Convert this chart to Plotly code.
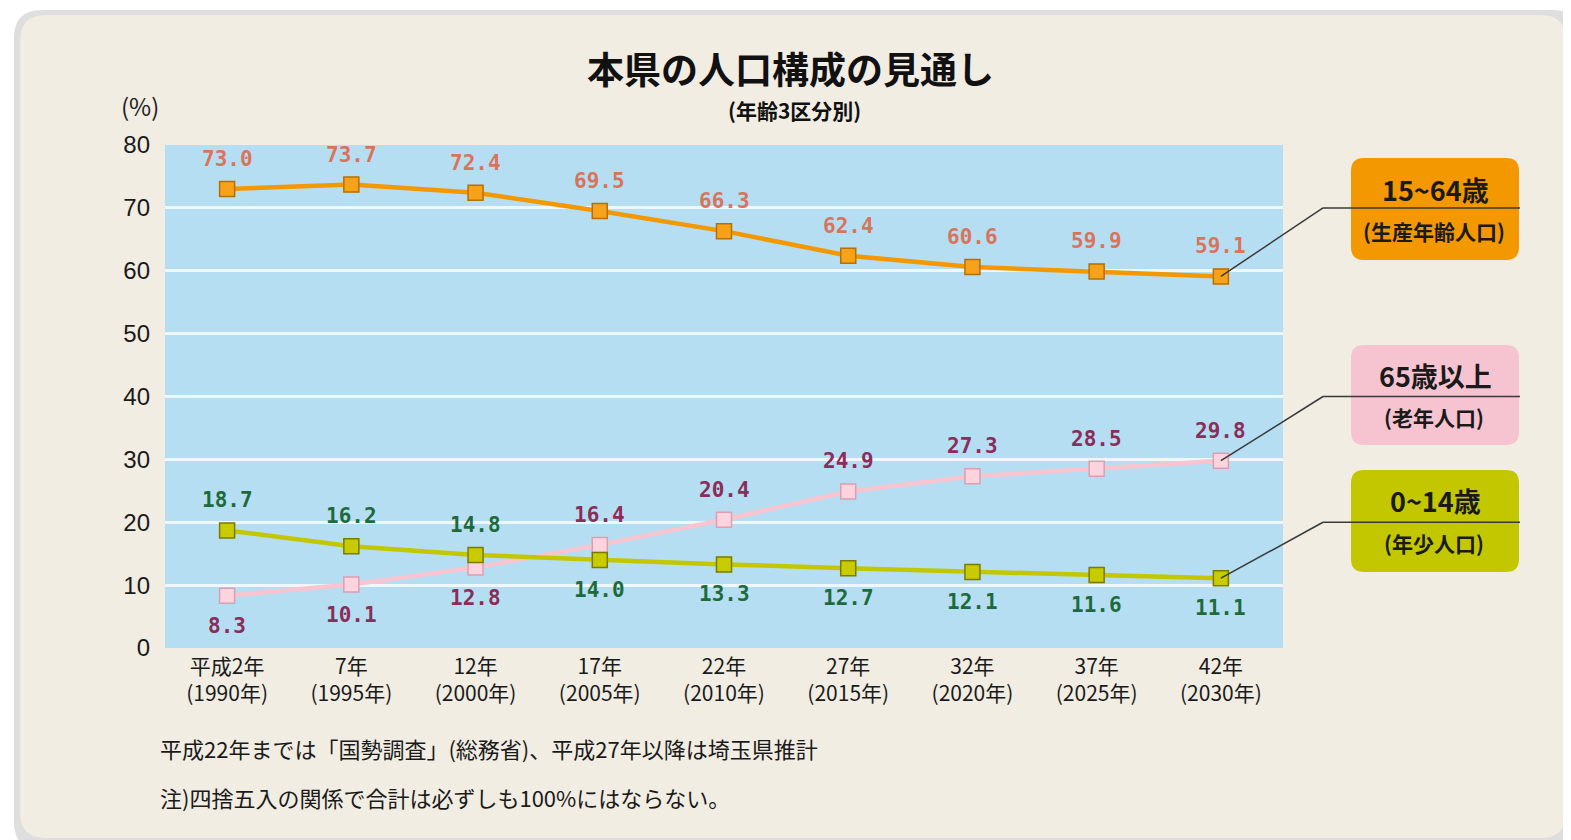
import plotly.graph_objects as go

# ---------------- data ----------------
categories = ["平成2年<br>(1990年)", "7年<br>(1995年)", "12年<br>(2000年)", "17年<br>(2005年)",
              "22年<br>(2010年)", "27年<br>(2015年)", "32年<br>(2020年)", "37年<br>(2025年)",
              "42年<br>(2030年)"]
working_age = [73.0, 73.7, 72.4, 69.5, 66.3, 62.4, 60.6, 59.9, 59.1]   # 15~64歳
elderly = [8.3, 10.1, 12.8, 16.4, 20.4, 24.9, 27.3, 28.5, 29.8]         # 65歳以上
children = [18.7, 16.2, 14.8, 14.0, 13.3, 12.7, 12.1, 11.6, 11.1]       # 0~14歳

# which side of the marker the value label sits on (+1 above, -1 below)
working_side = [1, 1, 1, 1, 1, 1, 1, 1, 1]
elderly_side = [-1, -1, -1, 1, 1, 1, 1, 1, 1]
children_side = [1, 1, 1, -1, -1, -1, -1, -1, -1]

title = "本県の人口構成の見通し"
subtitle = "(年齢3区分別)"
note1 = "平成22年までは「国勢調査」(総務省)、平成27年以降は埼玉県推計"
note2 = "注)四捨五入の関係で合計は必ずしも100%にはならない。"

# ---------------- layout geometry ----------------
W, H = 1571, 840
OFF = 8  # page body margin
# plot area in screen pixels
SL, SR, ST, SB = 165, 1283, 145, 648
ML, MT = SL - OFF, ST - OFF
MR, MB = W - (SR - OFF), H - (SB - OFF)
PW, PH = SR - SL, SB - ST


def px(x):
    return (x - SL) / PW


def py(y):
    return (SB - y) / PH


def rrect(x0, y0, x1, y1, r):
    """rounded rectangle path in paper coords from screen pixel box"""
    rx, ry = r / PW, r / PH
    X0, X1 = px(x0), px(x1)
    Y0, Y1 = py(y1), py(y0)  # bottom, top
    return (f"M {X0+rx},{Y1} L {X1-rx},{Y1} Q {X1},{Y1} {X1},{Y1-ry} "
            f"L {X1},{Y0+ry} Q {X1},{Y0} {X1-rx},{Y0} L {X0+rx},{Y0} "
            f"Q {X0},{Y0} {X0},{Y0+ry} L {X0},{Y1-ry} Q {X0},{Y1} {X0+rx},{Y1} Z")


CJK = "Noto Sans CJK JP"
NUM = "DejaVu Sans Mono"

fig = go.Figure()

series = [
    (working_age, working_side, "#f39800", "#f6a21a", "#b86f00", "#d9745c"),
    (elderly, elderly_side, "#f7c4d0", "#fbd4de", "#dd9fb0", "#8a2d58"),
    (children, children_side, "#c3c700", "#c8cb00", "#7a7a00", "#1d6b3b"),
]

annotations = []
for vals, sides, lc, mf, mb, tc in series:
    fig.add_trace(go.Scatter(
        x=categories, y=vals, mode="lines+markers",
        line=dict(color=lc, width=4.5),
        marker=dict(symbol="square", size=15, color=mf, line=dict(color=mb, width=1.5)),
        hoverinfo="x+y", showlegend=False,
    ))
    for c, v, s in zip(categories, vals, sides):
        annotations.append(dict(
            x=c, y=v, xref="x", yref="y", text=f"<b>{v:.1f}</b>", showarrow=False,
            xanchor="center", yanchor="middle",
            yshift=30 * s, font=dict(family=NUM, size=21, color=tc),
        ))


def label(x, y, text, size, color="#1a1a1a", xanchor="center", family=CJK):
    return dict(x=px(x), y=py(y), xref="paper", yref="paper", showarrow=False,
                xanchor=xanchor, yanchor="middle", text=text,
                font=dict(family=family, size=size, color=color))


shapes = []
# card shadow + card
shapes.append(dict(type="path", xref="paper", yref="paper", layer="below",
                   path=rrect(14, 10, 1580, 850, 28), fillcolor="rgba(160,160,160,0.35)",
                   line=dict(width=0)))
shapes.append(dict(type="path", xref="paper", yref="paper", layer="below",
                   path=rrect(20, 15, 1566, 838, 26), fillcolor="#f1ede3",
                   line=dict(width=0)))
# plot area blue
shapes.append(dict(type="rect", xref="paper", yref="paper", layer="below",
                   x0=0, x1=1, y0=0, y1=1, fillcolor="#b6def2", line=dict(width=0)))

# legend boxes with connector lines
boxes = [
    ("15~64歳", "(生産年齢人口)", "#f39800", 158, 260, working_age[-1], 70),
    ("65歳以上", "(老年人口)", "#f6c3d1", 345, 445, elderly[-1], 40),
    ("0~14歳", "(年少人口)", "#c3c700", 470, 572, children[-1], 20),
]
n = len(categories)
last_x = (n - 1 + 0.5) / n
elbow_x = px(1323)
for main, sub, col, y0, y1, v, gy in boxes:
    shapes.append(dict(type="path", xref="paper", yref="paper", layer="below",
                       path=rrect(1351, y0, 1519, y1, 13), fillcolor=col, line=dict(width=0)))
    shapes.append(dict(type="line", xref="paper", yref="y", x0=last_x, y0=v, x1=elbow_x, y1=gy,
                       line=dict(color="#3a3a3a", width=1.5)))
    shapes.append(dict(type="line", xref="paper", yref="y", x0=elbow_x, y0=gy, x1=px(1520), y1=gy,
                       line=dict(color="#3a3a3a", width=1.5)))
    ym = (y0 + y1) / 2
    annotations.append(label(1435, ym - 20, f"<b>{main}</b>", 27))
    annotations.append(label(1434, ym + 22, f"<b>{sub}</b>", 21))

# titles and notes
annotations += [
    label(790, 68, f"<b>{title}</b>", 37, "#111"),
    label(794, 110, f"<b>{subtitle}</b>", 21, "#111"),
    label(140, 105, "(%)", 24, "#222"),
    label(158, 748, note1, 22, "#1a1a1a", xanchor="left"),
    label(158, 797, note2, 22, "#1a1a1a", xanchor="left"),
]

fig.update_layout(
    width=W, height=H,
    margin=dict(l=ML, r=MR, t=MT, b=MB, autoexpand=False),
    paper_bgcolor="#ffffff", plot_bgcolor="rgba(0,0,0,0)",
    shapes=shapes, annotations=annotations,
    xaxis=dict(type="category", range=[-0.5, n - 0.5], showgrid=False, zeroline=False,
               showline=False, ticks="", ticklabelstandoff=4,
               tickfont=dict(family=CJK, size=21, color="#1a1a1a"), fixedrange=True),
    yaxis=dict(range=[0, 80], tickvals=list(range(0, 81, 10)), showgrid=True,
               gridcolor="rgba(255,255,255,0.75)", gridwidth=3, zeroline=False, showline=False,
               ticks="", ticklabelstandoff=14,
               tickfont=dict(family="Liberation Sans", size=24, color="#1a1a1a"), fixedrange=True),
    showlegend=False,
)

fig.write_html("out.html")
